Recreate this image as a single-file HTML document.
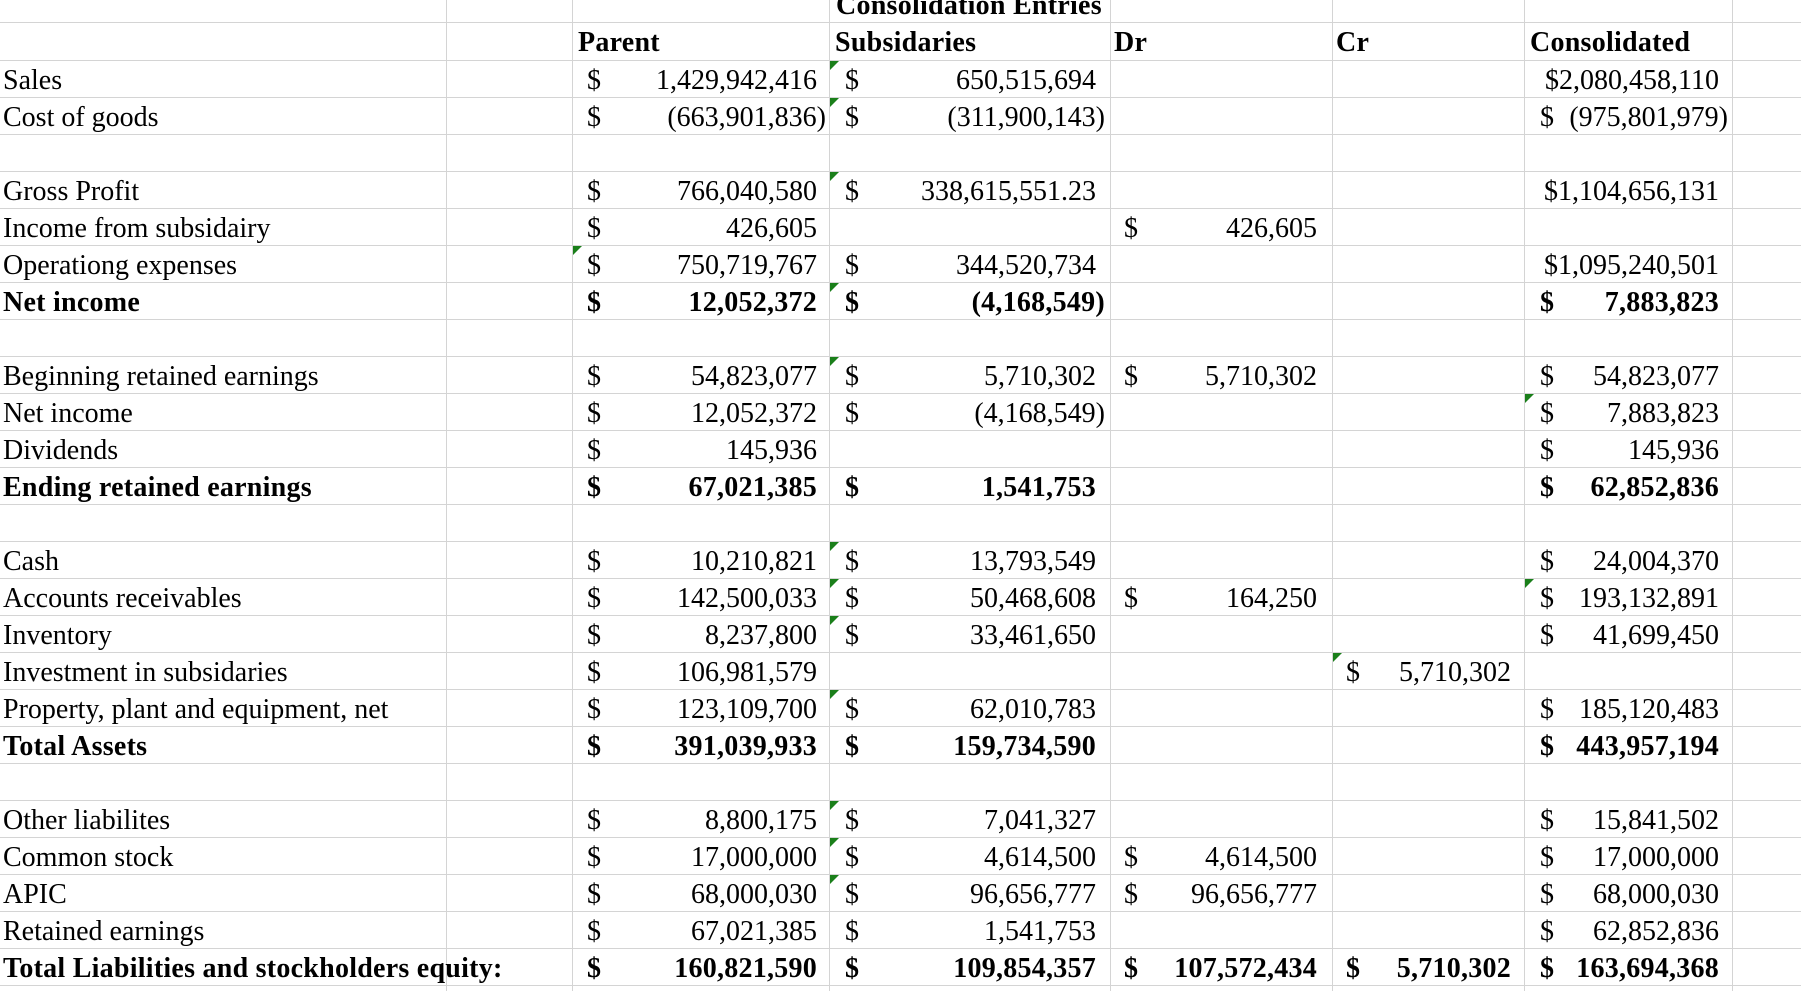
<!DOCTYPE html>
<html><head><meta charset="utf-8">
<style>
html,body{margin:0;padding:0;background:#fff;}
#sheet{position:relative;width:1801px;height:991px;overflow:hidden;font-family:"Liberation Serif",serif;font-size:28px;color:#000;}
.vl{position:absolute;top:0;width:1px;height:991px;background:#d4d4d4;}
.hl{position:absolute;left:0;width:1801px;height:1px;background:#d4d4d4;}
.t{position:absolute;white-space:nowrap;line-height:37px;height:37px;}
.b{font-weight:bold;letter-spacing:0.25px;}
.tri{position:absolute;width:0;height:0;border-top:9px solid #1a7f1a;border-right:9px solid transparent;}
</style></head>
<body>
<div id="sheet"></div>
<script>
const colLines=[446,572,829,1110,1332,1524,1732];
const labels=["Sales","Cost of goods","","Gross Profit","Income from subsidairy","Operationg expenses","Net income","","Beginning retained earnings","Net income","Dividends","Ending retained earnings","","Cash","Accounts receivables","Inventory","Investment in subsidaries","Property, plant and equipment, net","Total Assets","","Other liabilites","Common stock","APIC","Retained earnings","Total Liabilities and stockholders equity:"];
const boldRows=[6,11,18,24];
const parentVals=["1,429,942,416","(663,901,836)","","766,040,580","426,605","750,719,767","12,052,372","","54,823,077","12,052,372","145,936","67,021,385","","10,210,821","142,500,033","8,237,800","106,981,579","123,109,700","391,039,933","","8,800,175","17,000,000","68,000,030","67,021,385","160,821,590"];
const subVals=["650,515,694","(311,900,143)","","338,615,551.23","","344,520,734","(4,168,549)","","5,710,302","(4,168,549)","","1,541,753","","13,793,549","50,468,608","33,461,650","","62,010,783","159,734,590","","7,041,327","4,614,500","96,656,777","1,541,753","109,854,357"];
const subDollar=[1,1,0,1,0,1,1,0,1,1,0,1,0,1,1,1,0,1,1,0,1,1,1,1,1];
const drVals=["","","","","426,605","","","","5,710,302","","","","","","164,250","","","","","","","4,614,500","96,656,777","","107,572,434"];
const crVals=["","","","","","","","","","","","","","","","","5,710,302","","","","","","","","5,710,302"];
const consVals=["2,080,458,110","(975,801,979)","","1,104,656,131","","1,095,240,501","7,883,823","","54,823,077","7,883,823","145,936","62,852,836","","24,004,370","193,132,891","41,699,450","","185,120,483","443,957,194","","15,841,502","17,000,000","68,000,030","62,852,836","163,694,368"];
const consTight=[1,0,0,1,0,1,0,0,0,0,0,0,0,0,0,0,0,0,0,0,0,0,0,0,0];
const triangles=[[0,829],[1,829],[3,829],[5,572],[6,829],[8,829],[9,1524],[13,829],[14,829],[14,1524],[15,829],[16,1332],[17,829],[20,829],[21,829],[22,829]];
const sheet=document.getElementById('sheet');
function add(cls,css,text){const d=document.createElement('div');d.className=cls;d.style.cssText=css;if(text!==undefined)d.textContent=text;sheet.appendChild(d);return d;}
colLines.forEach(x=>{const v=add('vl','left:'+x+'px');

});
const rowY=r=>60+r*37;
[22].concat(labels.map((_,i)=>rowY(i)),[rowY(25)]).forEach(y=>{const h=add('hl','top:'+y+'px');

});
const hdrs=[["Consolidation Entries",836,-16],["Parent",578,21],["Subsidaries",835,21],["Dr",1114,21],["Cr",1336,21],["Consolidated",1530,21]];
hdrs.forEach(h=>{const d=add('t b','left:'+h[1]+'px;top:'+(h[2]+3)+'px',h[0]);

});
function amount(r,val,rightX,bold){
 const pr=val.endsWith(')')?0:9;
 const n=add('t'+(bold?' b':''),'right:'+(1801-rightX)+'px;padding-right:'+pr+'px;top:'+(rowY(r)+2)+'px',val);
 
 
}
function dollar(r,x,bold){
 const s=add('t'+(bold?' b':''),'left:'+x+'px;top:'+(rowY(r)+2)+'px','$');
 
 
}
function num(r,val,dollarX,rightX,bold){
 if(!val)return;
 dollar(r,dollarX,bold);
 amount(r,val,rightX,bold);
}
labels.forEach((l,r)=>{
 const bold=boldRows.includes(r);
 if(l){const d=add('t'+(bold?' b':''),'left:3px;top:'+(rowY(r)+2)+'px',l);
 
 }
 num(r,parentVals[r],587,826,bold);
 if(subDollar[r])dollar(r,845,bold);
 if(subVals[r])amount(r,subVals[r],1105,bold);
 num(r,drVals[r],1124,1326,bold);
 num(r,crVals[r],1346,1520,bold);
 if(consVals[r]){
  if(consTight[r])amount(r,'$'+consVals[r],1728,bold);
  else num(r,consVals[r],1540,1728,bold);
 }
});
triangles.forEach(t=>{const d=add('tri','left:'+(t[1]+1)+'px;top:'+(rowY(t[0])+1)+'px');

});
</script>
</body></html>
